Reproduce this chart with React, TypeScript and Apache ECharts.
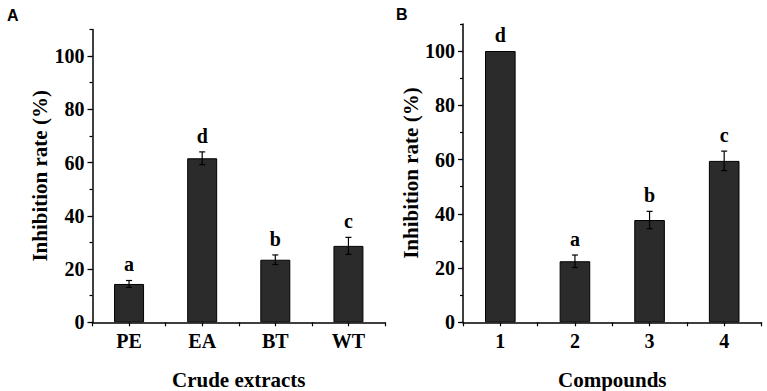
import React, { useEffect, useRef } from "react";
import * as echarts from "echarts";

// Panel A: crude extracts
const extractNames = ["PE", "EA", "BT", "WT"];
const extractRates = [14.4, 61.6, 23.5, 28.7];
const extractErrors = [1.3, 2.4, 1.8, 3.2];
const extractLetters = ["a", "d", "b", "c"];

// Panel B: isolated compounds
const compoundNames = ["1", "2", "3", "4"];
const compoundRates = [100, 22.5, 37.7, 59.5];
const compoundErrors = [0, 2.3, 3.2, 3.6];
const compoundLetters = ["d", "a", "b", "c"];

const yTicks = { min: 0, max: 110, major: 20, minor: 10 };

const SERIF = "'Liberation Serif', 'Times New Roman', serif";
const SANS = "'Liberation Sans', Arial, sans-serif";

function errorSeries(
  axisIdx: number,
  values: number[],
  errors: number[],
  letters: string[]
) {
  return {
    type: "custom",
    xAxisIndex: axisIdx * 2,
    yAxisIndex: axisIdx * 2,
    z: 5,
    data: values.map((v, i) => [i, v, errors[i]]),
    encode: { x: 0, y: 1 },
    renderItem: (params: any, api: any) => {
      const i = api.value(0);
      const v = api.value(1);
      const e = api.value(2);
      const top = api.coord([i, v + e]);
      const bottom = api.coord([i, v - e]);
      const cap = 3;
      const line = { stroke: "#000", lineWidth: 1.2 };
      const children: any[] = [];
      if (e > 0) {
        children.push(
          { type: "line", shape: { x1: top[0], y1: top[1], x2: bottom[0], y2: bottom[1] }, style: line },
          { type: "line", shape: { x1: top[0] - cap, y1: top[1], x2: top[0] + cap, y2: top[1] }, style: line },
          { type: "line", shape: { x1: bottom[0] - cap, y1: bottom[1], x2: bottom[0] + cap, y2: bottom[1] }, style: line }
        );
      }
      children.push({
        type: "text",
        x: top[0],
        y: top[1] - 6,
        style: {
          text: letters[params.dataIndex],
          fill: "#000",
          font: `bold 20px ${SERIF}`,
          align: "center",
          verticalAlign: "bottom",
        },
      });
      return { type: "group", children };
    },
  };
}

function xAxes(gridIndex: number, names: string[], title: string) {
  return [
    {
      type: "category",
      gridIndex,
      position: "bottom",
      data: names,
      name: title,
      nameLocation: "middle",
      nameGap: 47,
      nameTextStyle: { fontFamily: SERIF, fontWeight: "bold", fontSize: 21, color: "#000" },
      axisLine: { lineStyle: { color: "#000", width: 1.5 } },
      axisTick: { show: true, alignWithLabel: false, interval: 0, length: 4, lineStyle: { color: "#000", width: 1.2 } },
      axisLabel: { fontFamily: SERIF, fontWeight: "bold", fontSize: 20, color: "#000", margin: 9 },
    },
    {
      type: "category",
      gridIndex,
      position: "bottom",
      data: names,
      axisLine: { show: false },
      axisTick: { show: true, alignWithLabel: true, interval: 0, length: 4, lineStyle: { color: "#000", width: 1.2 } },
      axisLabel: { show: false },
    },
  ];
}

function yAxes(gridIndex: number) {
  return [
    {
      type: "value",
      gridIndex,
      position: "left",
      min: yTicks.min,
      max: yTicks.max,
      interval: yTicks.major,
      name: "Inhibition rate (%)",
      nameLocation: "middle",
      nameGap: 42,
      nameTextStyle: { fontFamily: SERIF, fontWeight: "bold", fontSize: 21, color: "#000" },
      splitLine: { show: false },
      axisLine: { show: true, lineStyle: { color: "#000", width: 1.5 } },
      axisTick: { show: true, length: 5, lineStyle: { color: "#000", width: 1.2 } },
      axisLabel: {
        showMaxLabel: false,
        fontFamily: SERIF,
        fontWeight: "bold",
        fontSize: 20,
        color: "#000",
        margin: 8,
        formatter: (v: number) => (v > 100 ? "" : String(v)),
      },
    },
    {
      type: "value",
      gridIndex,
      position: "left",
      min: yTicks.min,
      max: yTicks.max,
      interval: yTicks.minor,
      splitLine: { show: false },
      axisLine: { show: false },
      axisTick: { show: true, length: 3, lineStyle: { color: "#000", width: 1.2 } },
      axisLabel: { show: false },
    },
  ];
}

function barSeries(axisIdx: number, values: number[]) {
  return {
    type: "bar",
    xAxisIndex: axisIdx * 2,
    yAxisIndex: axisIdx * 2,
    data: values,
    barWidth: "41%",
    itemStyle: { color: "#2b2b2b", borderColor: "#000", borderWidth: 1 },
  };
}

export default function App() {
  const ref = useRef<HTMLDivElement>(null);

  useEffect(() => {
    if (!ref.current) return;
    const chart = echarts.init(ref.current, undefined, { renderer: "svg" });
    chart.setOption({
      animation: false,
      backgroundColor: "#fff",
      grid: [
        { left: 92.5, top: 29.4, width: 292.5, height: 292.9, outerBoundsMode: "none", containLabel: false },
        { left: 463, top: 23.9, width: 298.5, height: 298.4, outerBoundsMode: "none", containLabel: false },
      ],
      xAxis: [
        ...xAxes(0, extractNames, "Crude extracts"),
        ...xAxes(1, compoundNames, "Compounds"),
      ],
      yAxis: [...yAxes(0), ...yAxes(1)],
      series: [
        barSeries(0, extractRates),
        errorSeries(0, extractRates, extractErrors, extractLetters),
        barSeries(1, compoundRates),
        errorSeries(1, compoundRates, compoundErrors, compoundLetters),
      ],
      graphic: [
        { type: "text", left: 7, top: 7, style: { text: "A", font: `bold 16px ${SANS}`, fill: "#000" } },
        { type: "text", left: 396, top: 6, style: { text: "B", font: `bold 16px ${SANS}`, fill: "#000" } },
      ],
    });
    return () => chart.dispose();
  }, []);

  return (
    <div
      ref={ref}
      style={{ position: "fixed", left: 0, top: 0, width: 767, height: 391 }}
    />
  );
}
